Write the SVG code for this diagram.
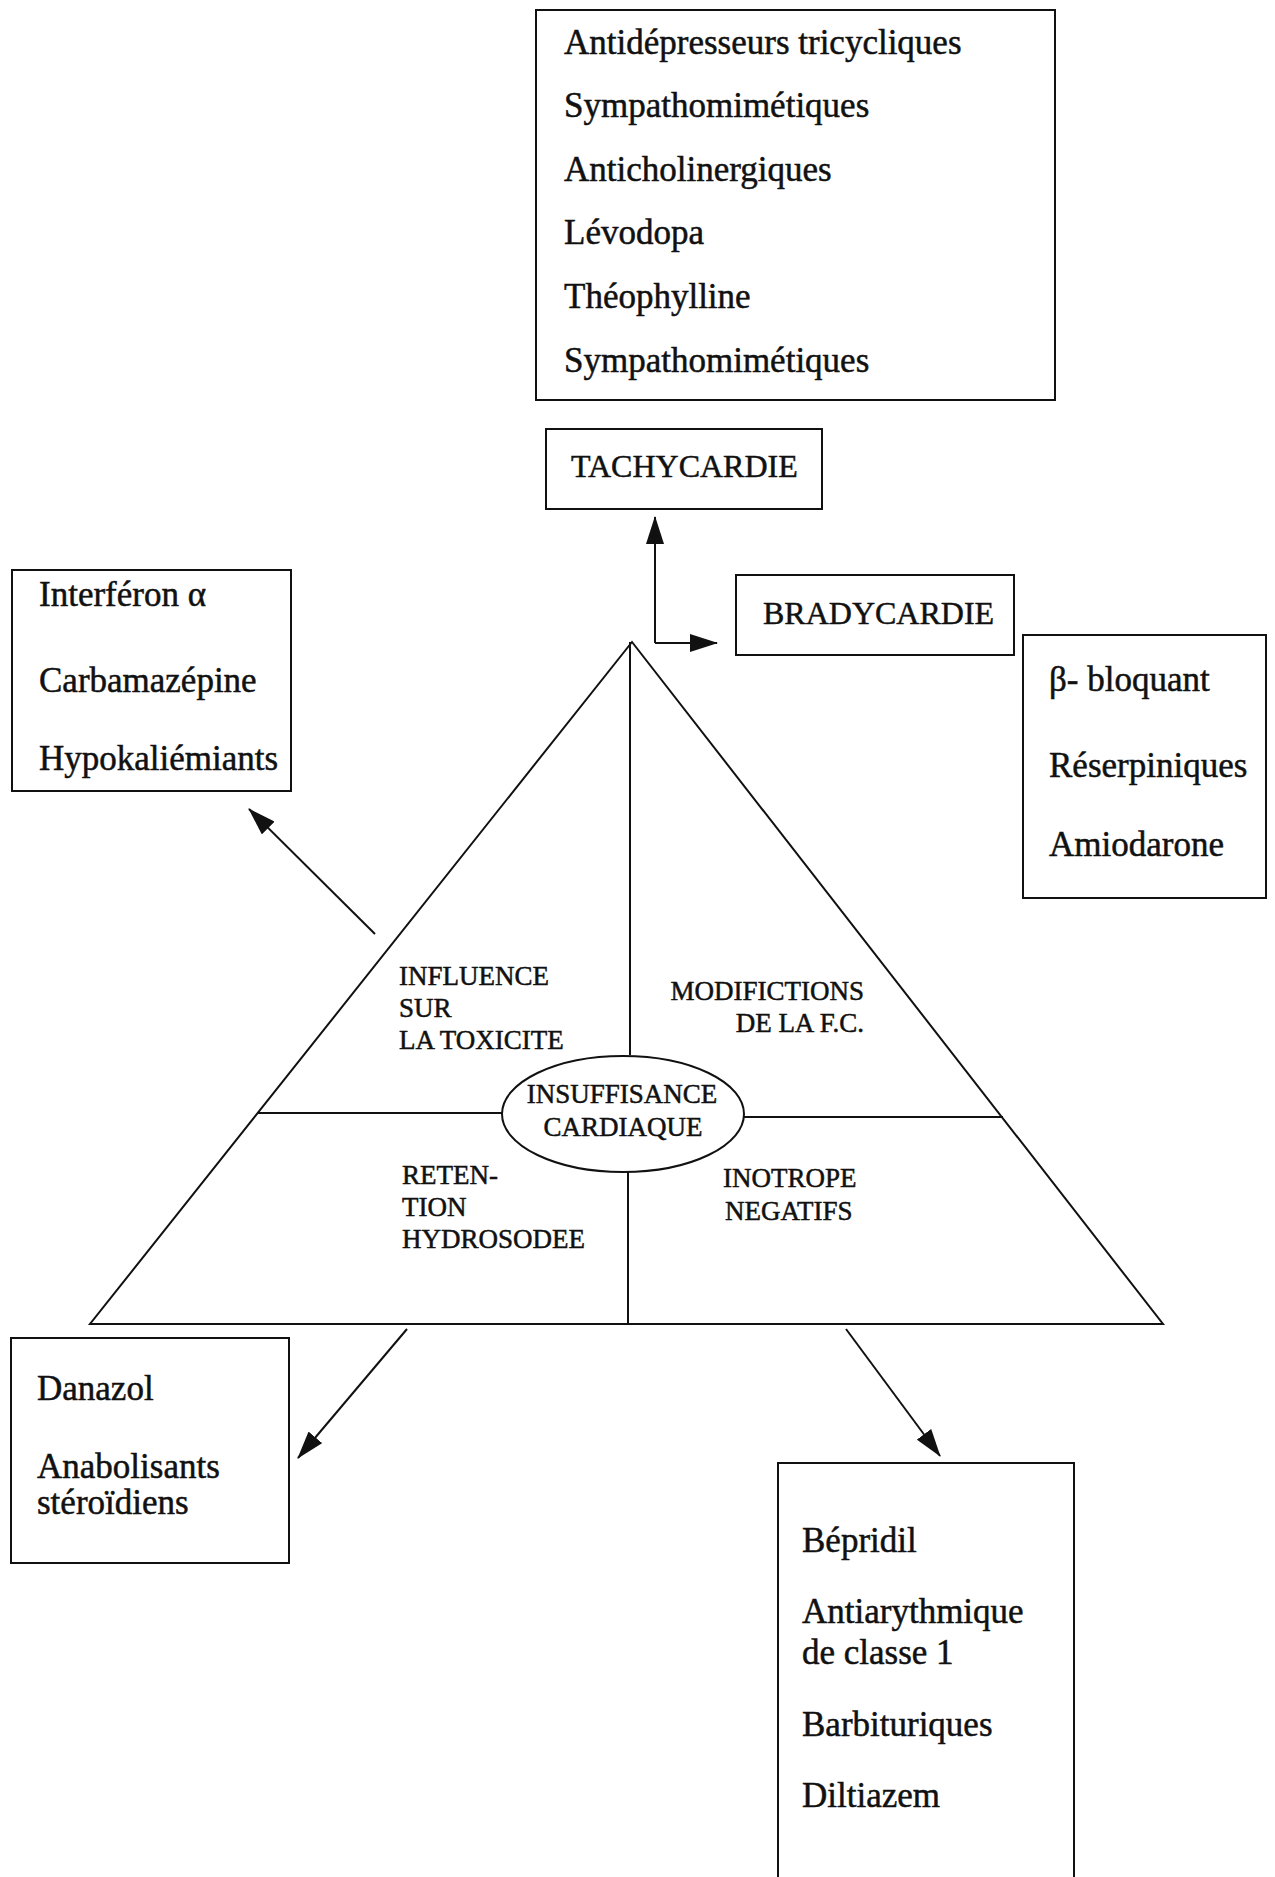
<svg xmlns="http://www.w3.org/2000/svg" width="1275" height="1877" viewBox="0 0 1275 1877">
<style>
.box{fill:none;stroke:#111;stroke-width:2}
.ln{fill:none;stroke:#111;stroke-width:2}
.t{font-family:"Liberation Serif","Times New Roman",serif;font-size:35px;fill:#111;stroke:#111;stroke-width:0.5}
.c{font-family:"Liberation Serif","Times New Roman",serif;font-size:32px;fill:#111;stroke:#111;stroke-width:0.5}
.s{font-family:"Liberation Serif","Times New Roman",serif;font-size:27px;fill:#111;stroke:#111;stroke-width:0.5}
</style>
<defs>
<marker id="ah" markerUnits="userSpaceOnUse" markerWidth="28" markerHeight="18" viewBox="0 0 28 18" refX="27" refY="9" orient="auto">
<path d="M0,0 L28,9 L0,18 Z" fill="#111"/>
</marker>
</defs>
<rect width="1275" height="1877" fill="#fff"/>

<g id="triangle">
<polygon class="ln" points="632,642 90,1324 1163,1324"/>
<line class="ln" x1="630" y1="642" x2="630" y2="1055"/>
<line class="ln" x1="628" y1="1172" x2="628" y2="1324"/>
<line class="ln" x1="258" y1="1113" x2="502" y2="1113"/>
<line class="ln" x1="744" y1="1117" x2="1003" y2="1117"/>
<text class="s" x="399" y="985">INFLUENCE</text>
<text class="s" x="399" y="1017">SUR</text>
<text class="s" x="399" y="1049">LA TOXICITE</text>
<text class="s" x="864" y="1000" text-anchor="end">MODIFICTIONS</text>
<text class="s" x="864" y="1032" text-anchor="end">DE LA F.C.</text>
<text class="s" x="402" y="1184">RETEN-</text>
<text class="s" x="402" y="1216">TION</text>
<text class="s" x="402" y="1248">HYDROSODEE</text>
<text class="s" x="723" y="1187">INOTROPE</text>
<text class="s" x="725" y="1220">NEGATIFS</text>
</g>

<g id="center">
<ellipse class="ln" cx="623" cy="1114" rx="121" ry="58"/>
<text class="s" x="622" y="1103" text-anchor="middle">INSUFFISANCE</text>
<text class="s" x="623" y="1136" text-anchor="middle">CARDIAQUE</text>
</g>

<g id="top-list">
<rect class="box" x="536" y="10" width="519" height="390"/>
<text class="t" x="564" y="54">Antidépresseurs tricycliques</text>
<text class="t" x="564" y="117">Sympathomimétiques</text>
<text class="t" x="564" y="181">Anticholinergiques</text>
<text class="t" x="564" y="244">Lévodopa</text>
<text class="t" x="564" y="308">Théophylline</text>
<text class="t" x="564" y="372">Sympathomimétiques</text>
</g>

<g id="tachycardie">
<rect class="box" x="546" y="429" width="276" height="80"/>
<text class="c" x="571" y="477">TACHYCARDIE</text>
</g>

<g id="bradycardie">
<rect class="box" x="736" y="575" width="278" height="80"/>
<text class="c" x="763" y="624">BRADYCARDIE</text>
</g>

<g id="toxicite-list">
<rect class="box" x="12" y="570" width="279" height="221"/>
<text class="t" x="39" y="606">Interféron α</text>
<text class="t" x="39" y="692">Carbamazépine</text>
<text class="t" x="39" y="770">Hypokaliémiants</text>
</g>

<g id="fc-list">
<rect class="box" x="1023" y="635" width="243" height="263"/>
<text class="t" x="1049" y="691">β- bloquant</text>
<text class="t" x="1049" y="777">Réserpiniques</text>
<text class="t" x="1049" y="856">Amiodarone</text>
</g>

<g id="retention-list">
<rect class="box" x="11" y="1338" width="278" height="225"/>
<text class="t" x="37" y="1400">Danazol</text>
<text class="t" x="37" y="1478">Anabolisants</text>
<text class="t" x="37" y="1514">stéroïdiens</text>
</g>

<g id="inotrope-list">
<path class="box" d="M778,1877 V1463 H1074 V1877"/>
<text class="t" x="802" y="1552">Bépridil</text>
<text class="t" x="802" y="1623">Antiarythmique</text>
<text class="t" x="802" y="1664">de classe 1</text>
<text class="t" x="802" y="1736">Barbituriques</text>
<text class="t" x="802" y="1807">Diltiazem</text>
</g>

<g id="connectors">
<path class="ln" d="M655,643 V517" marker-end="url(#ah)"/>
<path class="ln" d="M655,643 H717" marker-end="url(#ah)"/>
<path class="ln" d="M375,934 L249,809" marker-end="url(#ah)"/>
<path class="ln" d="M407,1329 L298,1458" marker-end="url(#ah)"/>
<path class="ln" d="M846,1329 L940,1456" marker-end="url(#ah)"/>
</g>
</svg>
